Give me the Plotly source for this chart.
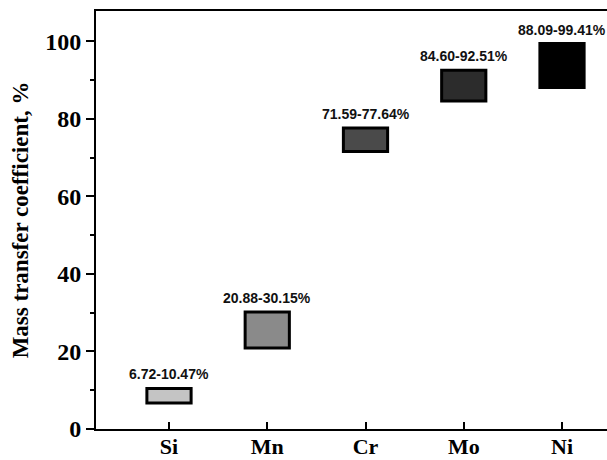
import plotly.graph_objects as go

elements = ["Si", "Mn", "Cr", "Mo", "Ni"]
low = [6.72, 20.88, 71.59, 84.60, 88.09]
high = [10.47, 30.15, 77.64, 92.51, 99.41]
fills = ["#c4c4c4", "#8a8a8a", "#4a4a4a", "#2c2c2c", "#000000"]
labels = [f"{l:.2f}-{h:.2f}%" for l, h in zip(low, high)]

fig = go.Figure()
fig.add_trace(go.Bar(
    x=elements,
    y=[h - l for l, h in zip(low, high)],
    base=low,
    width=0.45,
    marker=dict(color=fills, line=dict(color="#000000", width=3)),
    showlegend=False,
    hoverinfo="skip",
))

for e, h, t in zip(elements, high, labels):
    fig.add_annotation(x=e, y=h, text=t, showarrow=False, yanchor="bottom", yshift=4,
                       font=dict(family="Liberation Sans", size=14, color="#111111", weight="bold"))

serif = "Liberation Serif"
fig.update_layout(
    width=607, height=460,
    margin=dict(l=96, r=0, t=11, b=31),
    plot_bgcolor="white", paper_bgcolor="white",
    font=dict(family=serif, color="#000000"),
    xaxis=dict(
        range=[-0.743, 4.458], automargin=False,
        showline=True, linecolor="#000", linewidth=2, mirror=True,
        ticks="inside", ticklen=7, tickwidth=2, tickcolor="#000",
        ticklabelstandoff=-3,
        tickfont=dict(family=serif, size=22, color="#000", weight="bold"),
        showgrid=False, zeroline=False,
    ),
    yaxis=dict(
        range=[0, 107.8], automargin=False,
        tickvals=[0, 20, 40, 60, 80, 100],
        showline=True, linecolor="#000", linewidth=2, mirror=False,
        ticks="outside", ticklen=8, tickwidth=2, tickcolor="#000",
        minor=dict(tickvals=[10, 30, 50, 70, 90], ticks="outside", ticklen=4, tickwidth=2, tickcolor="#000"),
        tickfont=dict(family=serif, size=24, color="#000", weight="bold"),
        title=dict(text="Mass transfer coefficient, %", standoff=10,
                   font=dict(family=serif, size=23, color="#000", weight="bold")),
        showgrid=False, zeroline=False,
    ),
)

fig.write_html("out.html")
